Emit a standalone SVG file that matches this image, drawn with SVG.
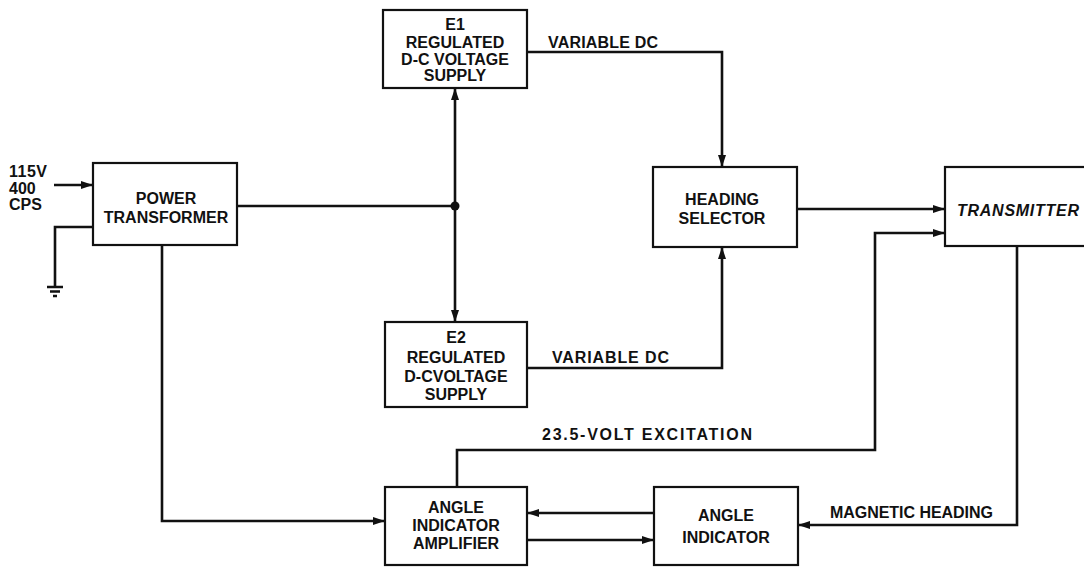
<svg xmlns="http://www.w3.org/2000/svg" width="1084" height="570" viewBox="0 0 1084 570">
<style>
.box{fill:#fff;stroke:#111;stroke-width:2.2}
.w{fill:none;stroke:#111;stroke-width:2.6}
.t{font-family:"Liberation Sans",Arial,sans-serif;font-weight:bold;font-size:16px;fill:#111;text-anchor:middle}
.l{font-family:"Liberation Sans",Arial,sans-serif;font-weight:bold;font-size:16px;fill:#111}
</style>
<defs>
<marker id="a" viewBox="0 0 12 8" refX="12" refY="4" markerWidth="12" markerHeight="8" markerUnits="userSpaceOnUse" orient="auto">
<path d="M0,0 L12,4 L0,8 Z" fill="#111"/>
</marker>
</defs>
<rect width="1084" height="570" fill="#fff"/>
<g id="connectors">
<path class="w" d="M54,185 H93" marker-end="url(#a)"/>
<path class="w" d="M93,227 H55 V287"/>
<path class="w" d="M47,287 H63 M50,291.5 H60 M53,296 H57" stroke-width="2"/>
<path class="w" d="M237,206 H455"/>
<path class="w" d="M455,206 V88" marker-end="url(#a)"/>
<path class="w" d="M455,206 V322" marker-end="url(#a)"/>
<circle cx="455" cy="206" r="4.5" fill="#111"/>
<path class="w" d="M527,52 H722 V167" marker-end="url(#a)"/>
<path class="w" d="M527,368 H722 V247" marker-end="url(#a)"/>
<path class="w" d="M797,209 H945" marker-end="url(#a)"/>
<path class="w" d="M457,487 V450 H875 V233 H945" marker-end="url(#a)"/>
<path class="w" d="M1017,246 V525 H798" marker-end="url(#a)"/>
<path class="w" d="M162,245 V521 H385" marker-end="url(#a)"/>
<path class="w" d="M654,513 H527" marker-end="url(#a)"/>
<path class="w" d="M527,540 H654" marker-end="url(#a)"/>
<text class="l" x="9" y="177" textLength="38">115V</text>
<text class="l" x="9" y="194">400</text>
<text class="l" x="9" y="210">CPS</text>
<text class="l" x="548" y="48" textLength="110">VARIABLE DC</text>
<text class="l" x="552" y="363" textLength="117">VARIABLE DC</text>
<text class="l" x="542" y="440" textLength="210">23.5-VOLT EXCITATION</text>
<text class="l" x="830" y="518" textLength="163">MAGNETIC HEADING</text>
</g>
<g id="power-transformer">
<rect class="box" x="93" y="163" width="144" height="82"/>
<text class="t" x="166" y="204">POWER</text>
<text class="t" x="166" y="223">TRANSFORMER</text>
</g>
<g id="e1-supply">
<rect class="box" x="383" y="10" width="144" height="78"/>
<text class="t" x="455" y="30">E1</text>
<text class="t" x="455" y="48">REGULATED</text>
<text class="t" x="455" y="65">D-C VOLTAGE</text>
<text class="t" x="455" y="81">SUPPLY</text>
</g>
<g id="e2-supply">
<rect class="box" x="385" y="322" width="142" height="85"/>
<text class="t" x="456" y="343">E2</text>
<text class="t" x="456" y="363">REGULATED</text>
<text class="t" x="456" y="382">D-CVOLTAGE</text>
<text class="t" x="456" y="400">SUPPLY</text>
</g>
<g id="heading-selector">
<rect class="box" x="653" y="167" width="144" height="80"/>
<text class="t" x="722" y="205">HEADING</text>
<text class="t" x="722" y="224">SELECTOR</text>
</g>
<g id="transmitter">
<rect class="box" x="945" y="167" width="150" height="79"/>
<text class="l" x="957" y="216" font-style="italic" textLength="122">TRANSMITTER</text>
</g>
<g id="angle-indicator-amplifier">
<rect class="box" x="385" y="487" width="142" height="78"/>
<text class="t" x="456" y="513">ANGLE</text>
<text class="t" x="456" y="531">INDICATOR</text>
<text class="t" x="456" y="549">AMPLIFIER</text>
</g>
<g id="angle-indicator">
<rect class="box" x="654" y="487" width="144" height="78"/>
<text class="t" x="726" y="521">ANGLE</text>
<text class="t" x="726" y="543">INDICATOR</text>
</g>
</svg>
